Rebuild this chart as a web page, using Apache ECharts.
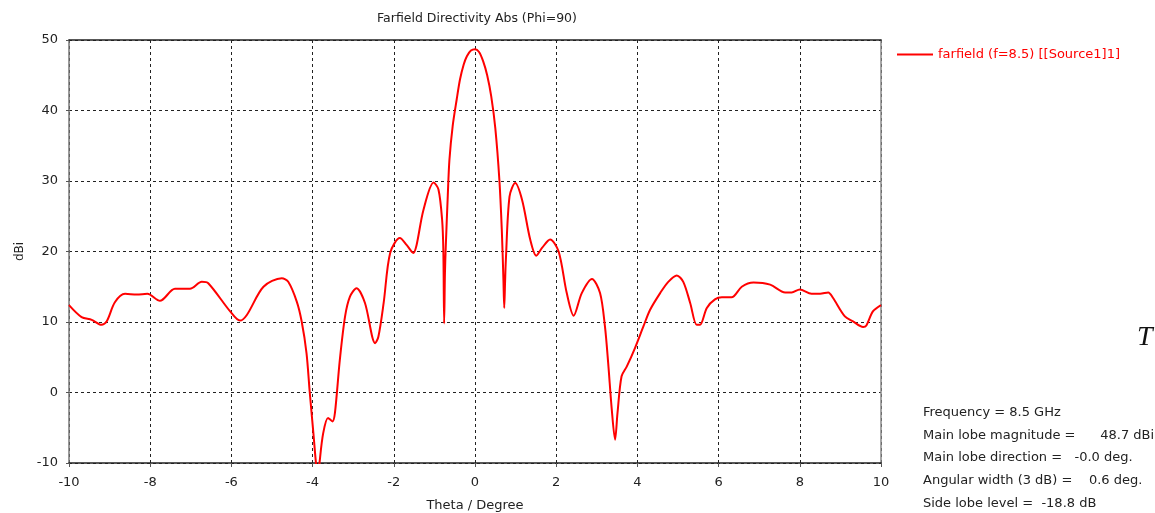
<!DOCTYPE html>
<html>
<head>
<meta charset="utf-8">
<script src="https://cdn.jsdelivr.net/npm/echarts@6/dist/echarts.min.js"></script>
<style>
  html, body { margin: 0; padding: 0; background: #fff; }
  #chart { width: 1155px; height: 513px; }
</style>
</head>
<body>
<div id="chart"></div>
<script>
// Farfield directivity cut (Phi = 90): theta in degrees, directivity in dBi
const theta = [
  -10, -9.69, -9.44, -9.2, -9.07, -8.87, -8.62, -8.33, -8.07, -7.76,
  -7.39, -7.02, -6.73, -6.57, -6.03, -5.79, -5.62, -5.21, -4.76, -4.6,
  -4.39, -4.27, -4.15, -4.07, -3.98, -3.9, -3.86, -3.83, -3.74, -3.62,
  -3.51, -3.45, -3.33, -3.2, -3.08, -2.92, -2.71, -2.46, -2.38, -2.25,
  -2.09, -1.85, -1.68, -1.52, -1.44, -1.27, -1.02, -0.9, -0.81, -0.78,
  -0.76, -0.74, -0.72, -0.67, -0.63, -0.55, -0.45, -0.37, -0.28, -0.2,
  -0.1, 0, 0.1, 0.2, 0.3, 0.4, 0.5, 0.6, 0.66, 0.7,
  0.72, 0.74, 0.76, 0.85, 0.99, 1.16, 1.36, 1.51, 1.65, 1.85,
  2.06, 2.26, 2.43, 2.63, 2.88, 3.08, 3.2, 3.28, 3.37, 3.45,
  3.51, 3.61, 3.74, 3.94, 4.15, 4.31, 4.56, 4.76, 4.97, 5.13,
  5.3, 5.46, 5.54, 5.71, 5.91, 6.08, 6.32, 6.57, 6.86, 7.27,
  7.64, 7.8, 8.0, 8.29, 8.5, 8.7, 8.82, 9.11, 9.31, 9.56,
  9.64, 9.8, 10
];
const directivity = [
  12.4, 10.7, 10.3, 9.6, 10.1, 12.8, 14.0, 13.9, 14.0, 13.0,
  14.7, 14.7, 15.7, 15.5, 11.5, 10.2, 11.0, 15.0, 16.2, 15.7,
  12.9, 10.1, 5.6, 0.0, -5.8, -11.0, -12.0, -10.0, -5.8, -3.6,
  -4.1, -2.9, 4.6, 10.8, 13.6, 14.8, 12.7, 7.0, 7.9, 12.7,
  19.8, 21.9, 20.9, 19.8, 20.9, 25.9, 29.8, 28.8, 24.5, 20.2,
  9.8, 17.0, 20.7, 28.0, 33.0, 37.8, 41.6, 44.4, 46.5, 47.7,
  48.5, 48.7, 48.3, 47.0, 45.0, 42.0, 37.5, 30.2, 23.1, 16.0,
  12.0, 15.5, 18.8, 27.8, 29.7, 27.3, 21.7, 19.4, 20.5, 21.7,
  20.0, 14.1, 10.9, 14.1, 16.1, 14.1, 9.4, 4.2, -2.5, -6.7,
  -2.9, 2.3, 3.7, 6.3, 9.4, 11.7, 14.1, 15.7, 16.6, 15.7,
  12.7, 9.6, 9.6, 12.0, 13.2, 13.5, 13.5, 15.0, 15.6, 15.3,
  14.2, 14.2, 14.6, 14.0, 14.0, 14.2, 13.4, 10.8, 10.1, 9.3,
  9.5, 11.5, 12.4
];
const xTicks = [-10, -8, -6, -4, -2, 0, 2, 4, 6, 8, 10];
const yTicks = [-10, 0, 10, 20, 30, 40, 50];
const seriesName = 'farfield (f=8.5) [[Source1]1]';
const infoLines = [
  'Frequency = 8.5 GHz',
  'Main lobe magnitude =      48.7 dBi',
  'Main lobe direction =   -0.0 deg.',
  'Angular width (3 dB) =    0.6 deg.',
  'Side lobe level =  -18.8 dB'
];

const FONT = 'DejaVu Sans';
const points = theta.map((t, i) => [t, directivity[i]]);

const gridLine = { show: true, lineStyle: { color: '#222', type: [3, 3], width: 1 } };

const chart = echarts.init(document.getElementById('chart'), null, { renderer: 'canvas' });
chart.setOption({
  animation: false,
  backgroundColor: '#fff',
  title: {
    text: 'Farfield Directivity Abs (Phi=90)',
    left: 472, top: 7, textAlign: 'center',
    textStyle: { fontFamily: FONT, fontSize: 12.5, fontWeight: 'normal', color: '#222' }
  },
  legend: {
    data: [seriesName],
    left: 892, top: 43,
    icon: 'rect', itemWidth: 36, itemHeight: 2, itemGap: 6,
    textStyle: { fontFamily: FONT, fontSize: 13, color: '#f00' }
  },
  grid: { left: 69, top: 40, width: 812, height: 423,
          containLabel: false, outerBoundsMode: 'none' },
  xAxis: [{
    type: 'value', min: -10, max: 10, interval: 2,
    name: 'Theta / Degree', nameLocation: 'middle', nameGap: 36,
    nameTextStyle: { fontFamily: FONT, fontSize: 13, color: '#222' },
    axisLine: { show: true, onZero: false, lineStyle: { color: '#222', width: 1.5 } },
    axisTick: { show: true, length: 4, lineStyle: { color: '#555' } },
    axisLabel: { fontFamily: FONT, fontSize: 13, color: '#222', margin: 13,
                 customValues: xTicks },
    splitLine: gridLine
  }, {
    type: 'value', min: -10, max: 10, interval: 2, position: 'top',
    axisLine: { show: true, onZero: false, lineStyle: { color: '#222', width: 1.5 } },
    axisTick: { show: false }, axisLabel: { show: false }, splitLine: { show: false }
  }],
  yAxis: [{
    type: 'value', min: -10, max: 50, interval: 10,
    name: 'dBi', nameLocation: 'middle', nameGap: 43,
    nameTextStyle: { fontFamily: FONT, fontSize: 12, color: '#222' },
    axisLine: { show: true, onZero: false, lineStyle: { color: '#777', width: 1.5 } },
    axisTick: { show: true, length: 3, lineStyle: { color: '#555' } },
    axisLabel: { fontFamily: FONT, fontSize: 13, color: '#222', margin: 11,
                 customValues: yTicks },
    splitLine: gridLine
  }, {
    type: 'value', min: -10, max: 50, interval: 10, position: 'right',
    axisLine: { show: true, onZero: false, lineStyle: { color: '#888', width: 1.5 } },
    axisTick: { show: false }, axisLabel: { show: false }, splitLine: { show: false }
  }],
  series: [{
    name: seriesName,
    type: 'line',
    data: points,
    showSymbol: false, symbol: 'none',
    smooth: 0.3,
    clip: true,
    lineStyle: { color: '#f00', width: 2 },
    itemStyle: { color: '#f00' }
  }],
  graphic: [
    ...infoLines.map((s, i) => ({
      type: 'text', left: 923, top: 406 + i * 22.7,
      style: { text: s, font: '13px "' + FONT + '"', fill: '#222' }
    })),
    { type: 'text', left: 1137, top: 324,
      style: { text: 'T', font: 'italic 28px "Liberation Serif"', fill: '#111' } }
  ]
});
</script>
</body>
</html>
